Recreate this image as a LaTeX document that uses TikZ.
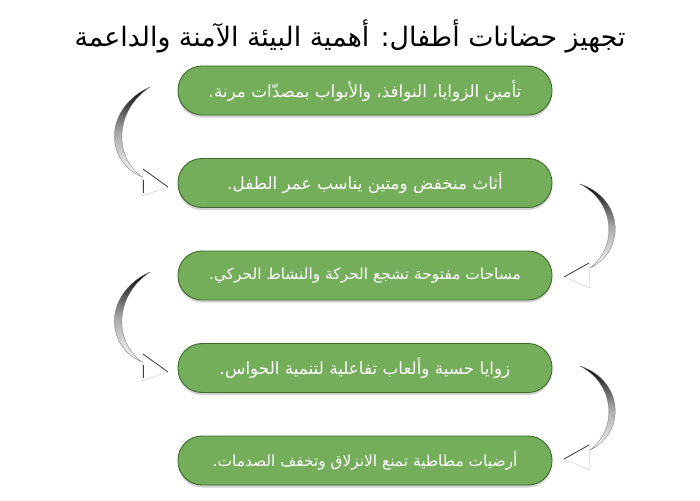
\documentclass[tikz,border=0pt]{standalone}
\usepackage{fontspec}
\newfontfamily\arabicfont[Script=Arabic]{DejaVu Sans}
\TeXXeTstate=1
\usetikzlibrary{shadows}
\definecolor{boxfill}{HTML}{74AE5A}
\definecolor{boxedge}{HTML}{3E6A2C}
\begin{document}
\begin{tikzpicture}[x=1pt,y=-1pt,
  stepbox/.style={rectangle, rounded corners=24pt, minimum width=374pt, minimum height=49pt,
    fill=boxfill, draw=boxedge, line width=0.9pt, text=white, inner sep=0pt,
    font=\arabicfont\fontsize{16.8}{20}\selectfont,
    drop shadow={opacity=0.35, shadow xshift=0pt, shadow yshift=-2.5pt}},
  smalltext/.style={font=\arabicfont\fontsize{15.4}{20}\selectfont},
  titletext/.style={font=\arabicfont\fontsize{26.8}{32}\selectfont, text=black, inner sep=0pt},
  crescent/.style={top color=black, bottom color=white, middle color=gray!70, draw=black!55, line width=0.3pt},
  headshape/.style={fill=white, draw=gray!35, line width=0.5pt},
  headedge/.style={draw=black!75, line width=0.8pt}]
\useasboundingbox (0,0) rectangle (700,500);
\fill[white] (0,0) rectangle (700,500);

\node[titletext] (title) at (350,36) {\beginR تجهيز حضانات أطفال: أهمية البيئة الآمنة والداعمة\endR};

\node[stepbox] (b1) at (365,90.5) {\beginR تأمين الزوايا، النوافذ، والأبواب بمصدّات مرنة.\endR};
\node[stepbox] (b2) at (365,183) {\beginR أثاث منخفض ومتين يناسب عمر الطفل.\endR};
\node[stepbox, smalltext] (b3) at (365,275.5) {\beginR مساحات مفتوحة تشجع الحركة والنشاط الحركي.\endR};
\node[stepbox] (b4) at (365,368) {\beginR زوايا حسية وألعاب تفاعلية لتنمية الحواس.\endR};
\node[stepbox, smalltext] (b5) at (365,460.5) {\beginR أرضيات مطاطية تمنع الانزلاق وتخفف الصدمات.\endR};

% left arrows (box1 -> box2, box3 -> box4)
\foreach \yy/\nm in {0/la1, 185/la2} {
\begin{scope}[yshift=-\yy pt]
  \coordinate (\nm-tail) at (150,87);
  \coordinate (\nm-end) at (142,177);
  \coordinate (\nm-tip) at (168,187);
  \path[crescent] (\nm-tail) .. controls (105,107) and (103,160) .. (\nm-end)
        .. controls (113,156) and (115,110) .. (\nm-tail) -- cycle;
  \path[headshape] (143,169) -- (\nm-tip) -- (142,196) -- cycle;
  \draw[headedge] (143,169) -- (\nm-tip);
  \draw[headedge] (143,180) -- (143,193);
\end{scope}
}

% right arrows (box2 -> box3, box4 -> box5)
\foreach \yy/\nm in {0/ra1, 182/ra2} {
\begin{scope}[yshift=-\yy pt]
  \coordinate (\nm-tail) at (580,184);
  \coordinate (\nm-end) at (590,268);
  \coordinate (\nm-tip) at (564,277);
  \path[crescent] (\nm-tail) .. controls (623,198) and (627,250) .. (\nm-end)
        .. controls (618,247) and (615,202) .. (\nm-tail) -- cycle;
  \path[headshape] (589,263) -- (\nm-tip) -- (590,288) -- cycle;
  \draw[headedge] (589,263) -- (\nm-tip);
\end{scope}
}
\end{tikzpicture}
\end{document}
